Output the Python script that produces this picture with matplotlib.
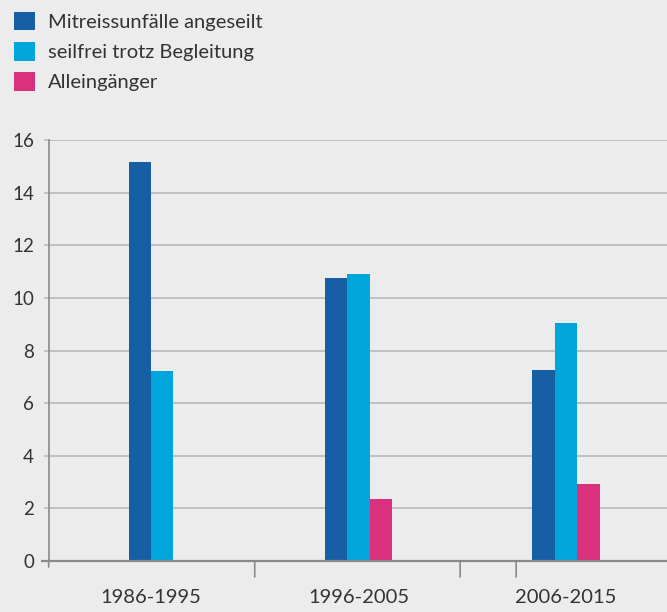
import numpy as np
import matplotlib
matplotlib.use("Agg")
import matplotlib.pyplot as plt
import matplotlib.transforms as mtransforms
from matplotlib.patches import Patch

plt.rcParams['font.family'] = ['Lato', 'DejaVu Sans']

categories = ["1986-1995", "1996-2005", "2006-2015"]
series_names = ["Mitreissunfälle angeseilt", "seilfrei trotz Begleitung", "Alleingänger"]
angeseilt = [15.15, 10.75, 7.27]
seilfrei = [7.22, 10.9, 9.03]
alleingaenger = [np.nan, 2.36, 2.93]
yticks = [0, 2, 4, 6, 8, 10, 12, 14, 16]

colors = ["#175fa4", "#00a5db", "#d9317d"]
bg = "#ececec"
grid_c = "#bdbdbd"
axis_c = "#8a8a8a"
text_c = "#333333"

fig = plt.figure(figsize=(6.67, 6.12), dpi=100, facecolor=bg)
ax = fig.add_axes([48.7/667, (612-561)/612, (667-48.7)/667, (561-140)/612])
ax.set_facecolor(bg)

data = [angeseilt, seilfrei, alleingaenger]
width = 0.108
x = np.arange(len(categories))
for i in range(len(categories)):
    present = [k for k in range(3) if not np.isnan(data[k][i])]
    n = len(present)
    for j, k in enumerate(present):
        off = (j - (n - 1) / 2) * width
        ax.bar(x[i] + off, data[k][i], width=width, color=colors[k], zorder=3, linewidth=0)

ax.set_ylim(0, 16)
ax.set_xlim(-0.493, 2.487)
ax.set_yticks(yticks)
ax.yaxis.grid(True, color=grid_c, linewidth=1.3, zorder=1)
ax.set_axisbelow(True)
for s in ['top', 'right']:
    ax.spines[s].set_visible(False)
ax.spines['left'].set_color(axis_c)
ax.spines['left'].set_linewidth(1.2)
ax.spines['bottom'].set_color(axis_c)
ax.spines['bottom'].set_linewidth(1.6)
ax.spines['bottom'].set_zorder(4)
ax.tick_params(axis='y', direction='out', length=3.6, width=1.2, color=grid_c,
               labelsize=13.5, labelcolor=text_c, pad=7)
ax.set_xticks(x)
ax.set_xticklabels(categories)
ax.tick_params(axis='x', length=0, labelsize=14.5, labelcolor=text_c, pad=20)

trans = mtransforms.blended_transform_factory(ax.transData, ax.transAxes)
# extend bottom axis line left of the y axis
ax.plot([-0.530, -0.493], [0, 0], transform=trans, color=axis_c, lw=1.6,
        clip_on=False, zorder=4, solid_capstyle='butt')
# separator ticks below axis (and y-spine extension)
for sx, ln in [(-0.493, 6), (0.50, 16), (1.49, 16), (1.76, 16)]:
    ax.annotate('', xy=(sx, 0), xycoords=trans, xytext=(0, -ln * 0.72),
                textcoords='offset points',
                arrowprops=dict(arrowstyle='-', color=axis_c, lw=1.2, shrinkA=0, shrinkB=0))

handles = [Patch(facecolor=c, edgecolor='none') for c in colors]
leg = fig.legend(handles, series_names, loc='upper left', bbox_to_anchor=(0.0, 1.004),
                 frameon=False, fontsize=14.5, handlelength=1.05, handleheight=1.05,
                 handletextpad=0.62, labelspacing=0.55, borderaxespad=0.3)
for t in leg.get_texts():
    t.set_color(text_c)

fig.savefig("out.png", dpi=100, facecolor=bg)
